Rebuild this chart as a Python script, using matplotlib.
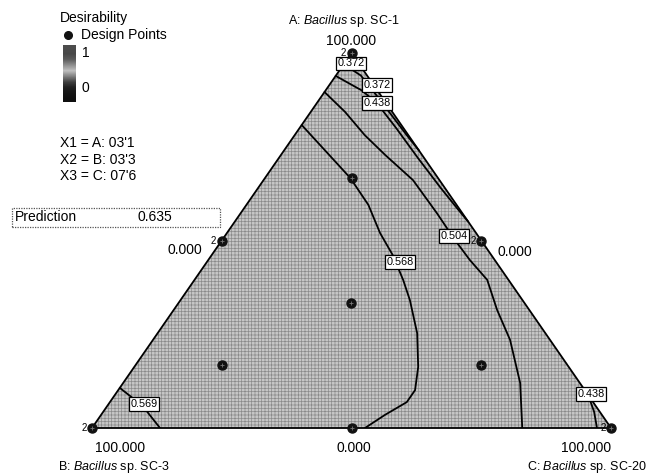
import numpy as np
import matplotlib
matplotlib.use('Agg')
import matplotlib.pyplot as plt
from matplotlib.patches import Polygon, Rectangle

plt.rcParams['font.family'] = ['Liberation Sans', 'DejaVu Sans']
plt.rcParams['mathtext.fontset'] = 'custom'
plt.rcParams['mathtext.it'] = 'Liberation Sans:italic'
plt.rcParams['mathtext.rm'] = 'Liberation Sans'
plt.rcParams['hatch.linewidth'] = 0.5

# ---------------- data (compositions in %, A and C; B = 100 - A - C) -------------
axis_titles = [r'A: $\mathit{Bacillus}$ sp. SC-1',
               r'B: $\mathit{Bacillus}$ sp. SC-3',
               r'C: $\mathit{Bacillus}$ sp. SC-20']
vertex_tick = '100.000'
zero_tick = '0.000'

design_A = [100, 0, 0, 50, 50, 0, 33.33, 66.67, 16.67, 16.67]
design_C = [0, 0, 100, 0, 50, 50, 33.33, 16.67, 16.67, 66.67]
design_reps = [2, 2, 2, 2, 2, 1, 1, 1, 1, 1]

# contour lines (desirability levels)
c569_A = [80.8, 74.1, 66.7, 59.5, 52.0, 46.1, 39.5, 34.1, 25.3, 16.3, 10.1, 6.9, 3.5, 0.0]
c569_C = [0.0, 7.8, 16.4, 23.5, 29.5, 34.9, 40.2, 44.2, 50.0, 54.7, 57.2, 57.2, 54.7, 52.6]

c504_A = [89.6, 84.3, 78.1, 72.8, 66.1, 57.3, 50.1, 44.8, 39.5, 31.5, 23.5, 12.0, 0.0]
c504_C = [0.0, 6.6, 13.5, 20.1, 28.8, 37.8, 44.9, 50.4, 56.4, 62.3, 68.8, 76.5, 82.9]

c438_A = [93.9, 90.0, 86.7, 80.0, 72.0, 64.0, 58.0, 55.0]
c438_C = [0.0, 7.0, 11.5, 18.6, 26.8, 35.2, 41.7, 45.0]

c372_A = [97.0, 94.0, 90.0, 84.0, 78.0, 74.0]
c372_C = [0.0, 4.8, 9.1, 15.4, 21.7, 26.0]

c569b_A = [10.7, 6.4, 4.3, 0.0]
c569b_C = [0.0, 6.1, 8.5, 13.1]

c438b_A = [8.8, 4.3, 0.0]
c438b_C = [91.2, 94.6, 97.3]

contours = [(c569_A, c569_C), (c504_A, c504_C), (c438_A, c438_C),
            (c372_A, c372_C), (c569b_A, c569b_C), (c438b_A, c438b_C)]

label_text = ['0.372', '0.372', '0.438', '0.504', '0.568', '0.569', '0.438']
label_A = [97.3, 91.5, 86.7, 51.2, 44.3, 6.4, 9.1]
label_C = [1.2, 9.2, 11.6, 44.2, 37.2, 6.8, 91.6]

legend_title = 'Desirability'
legend_points = 'Design Points'
cbar_hi, cbar_lo = '1', '0'
actual_lines = ['X1 = A: 03\'1', 'X2 = B: 03\'3', 'X3 = C: 07\'6']
prediction_name = 'Prediction'
prediction_value = '0.635'


def tern(A, C):
    a = np.asarray(A, float) / 100.0
    c = np.asarray(C, float) / 100.0
    return c + a / 2.0, a


W, H = 651, 475
fig = plt.figure(figsize=(W / 100, H / 100), dpi=100)
fig.patch.set_facecolor('white')
ax = fig.add_axes([92 / W, 47 / H, 519 / W, 375 / H])
ax.set_xlim(0, 1)
ax.set_ylim(0, 1)
ax.axis('off')

# triangle
vx, vy = tern([100, 0, 0], [0, 0, 100])
verts = np.column_stack([vx, vy])
ax.add_patch(Polygon(verts, closed=True, facecolor='#c6c6c6', edgecolor='none', zorder=1))
ax.add_patch(Polygon(verts, closed=True, facecolor='none', edgecolor='#8a8a8a',
                     hatch='+++++', linewidth=0, zorder=1.5))
ax.add_patch(Polygon(verts, closed=True, facecolor='none', edgecolor='black',
                     linewidth=1.3, zorder=3, clip_on=False))

# contours
for A, C in contours:
    x, y = tern(A, C)
    ax.plot(x, y, color='black', lw=1.3, zorder=3, solid_capstyle='round')

# contour labels
for t, A, C in zip(label_text, label_A, label_C):
    x, y = tern([A], [C])
    ax.text(x[0], y[0], t, fontsize=7.8, ha='center', va='center', zorder=5,
            clip_on=False,
            bbox=dict(boxstyle='square,pad=0.15', fc='white', ec='black', lw=0.9))

# design points
dx, dy = tern(design_A, design_C)
ax.plot(dx, dy, 'o', ms=6.5, color='#111111', zorder=6, clip_on=False)
ax.plot(dx, dy, '+', ms=3, color='#777777', mew=0.6, zorder=7, clip_on=False)
for x, y, r in zip(dx, dy, design_reps):
    if r > 1:
        ax.annotate(str(r), (x, y), xytext=(-4, 0), textcoords='offset points',
                    fontsize=7, ha='right', va='center', zorder=7)

# axis tick labels
tick_specs = [  # anchor A, anchor C, text, offset(pt), ha
    (100, 0, vertex_tick, (0, 8.5), 'center'),
    (0, 0, vertex_tick, (20, -14.5), 'center'),
    (0, 100, vertex_tick, (-18, -14.5), 'center'),
    (50, 0, zero_tick, (-14, -7), 'right'),
    (50, 50, zero_tick, (11.5, -8), 'left'),
    (0, 50, zero_tick, (2, -14.5), 'center'),
]
for A, C, t, off, ha in tick_specs:
    x, y = tern([A], [C])
    ax.annotate(t, (x[0], y[0]), xytext=off, textcoords='offset points',
                fontsize=10, ha=ha, va='center')

# axis titles
fig.text(344 / W, 1 - 21 / H, axis_titles[0], fontsize=9, ha='center', va='center')
fig.text(58 / W, 1 - 467 / H, axis_titles[1], fontsize=9, ha='left', va='center')
fig.text(647 / W, 1 - 467 / H, axis_titles[2], fontsize=9, ha='right', va='center')

# legend block
fig.text(60 / W, 1 - 18 / H, legend_title, fontsize=10, ha='left', va='center')
fig.text(81 / W, 1 - 35 / H, legend_points, fontsize=10, ha='left', va='center')
fig.add_artist(plt.Line2D([68 / W], [1 - 35 / H], marker='o', ms=5.5, color='#111111',
                          transform=fig.transFigure))
cax = fig.add_axes([63 / W, 1 - 102 / H, 13 / W, 57 / H])
grad = np.array([0.3, 0.28, 0.35, 0.55, 0.75, 0.5, 0.25, 0.12, 0.08, 0.06])[:, None]
cax.imshow(grad, cmap='gray', vmin=0, vmax=1, aspect='auto', interpolation='bilinear')
cax.set_xticks([]); cax.set_yticks([])
for s in cax.spines.values():
    s.set_visible(False)
fig.text(82 / W, 1 - 53 / H, cbar_hi, fontsize=10, ha='left', va='center')
fig.text(82 / W, 1 - 88 / H, cbar_lo, fontsize=10, ha='left', va='center')

for i, t in enumerate(actual_lines):
    fig.text(60 / W, 1 - (143 + 16.5 * i) / H, t, fontsize=10, ha='left', va='center')

# prediction box
fig.add_artist(Rectangle((12 / W, 1 - 227 / H), 208 / W, 19 / H, transform=fig.transFigure,
                         fill=False, edgecolor='#555555', lw=0.9, linestyle=(0, (1, 1))))
fig.text(15 / W, 1 - 217 / H, prediction_name, fontsize=10, ha='left', va='center')
fig.text(137 / W, 1 - 217 / H, prediction_value, fontsize=10, ha='left', va='center')

fig.savefig('out.png', dpi=100, facecolor='white')
